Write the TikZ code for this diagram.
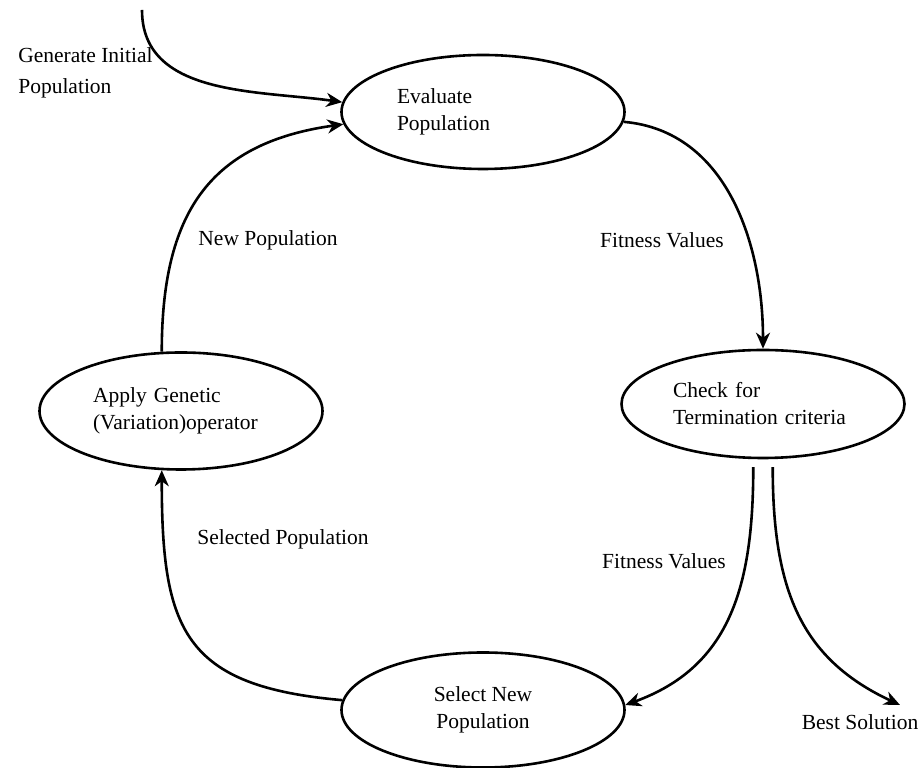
\documentclass[tikz,border=0pt]{standalone}
\usepackage{fontspec}
\setmainfont{Liberation Serif}
\usepackage{tikz}
\usetikzlibrary{shapes.geometric,arrows.meta}

\begin{document}
\begin{tikzpicture}[x=1pt,y=1pt,->,>={Stealth[length=16pt,width=14pt,inset=5pt]},line width=2.6pt]
    \tikzstyle{stage}=[ellipse,draw,minimum width=283pt,inner sep=0pt,font=\fontsize{21.5}{27}\selectfont]
    \tikzstyle{annot}=[inner sep=0pt,font=\fontsize{21.5}{27}\selectfont]

    \useasboundingbox (0,0) rectangle (922,768);

    % Draw the stages of the loop
    \node[stage,minimum height=114pt,text width=172pt,align=left] (Eval) at (483,656) {Evaluate\\Population};
    \node[stage,minimum height=108pt,text width=180pt,align=left] (Check) at (763,364) {Check for\\Termination criteria};
    \node[stage,minimum height=117pt,text width=176pt,align=left] (Apply) at (181,357) {Apply Genetic\\(Variation)operator};
    \node[stage,minimum height=115pt,align=center] (Select) at (483,58) {Select New\\Population};

    % Free ends: start of the loop and its exit
    \coordinate (start) at (142,758);
    \coordinate (sol) at (900,63);

    % Connect the stages
    \draw (start) to[out=-90,in=172] (Eval.176);
    \draw (Apply.108) to[out=90,in=188,looseness=1.2] (Eval.185);
    \draw (Eval.356) to[out=-5,in=90] (Check.north);
    \draw[shorten <=8pt] (Check.260) to[out=-90,in=20,out distance=130pt,in distance=110pt] (Select.2);
    \draw[shorten <=8pt] (Check.280) to[out=-90,in=155,out distance=130pt,in distance=110pt] (sol);
    \draw (Select.176) to[out=175,in=-90,looseness=1.4] (Apply.252);

    % Annotate the connectors
    \node[annot,anchor=north west,align=left,font=\fontsize{21.5}{31}\selectfont] (gen) at (17,722) {Generate Initial\\Population};
    \foreach \name/\x/\y/\txt in {newpop/268/528/New Population, fit-1/662/528/Fitness Values, selpop/283/229/Selected Population, fit-2/664/207/Fitness Values, best/860/46/Best Solution}
        \node[annot] (\name) at (\x,\y) {\txt};
\end{tikzpicture}
\end{document}
